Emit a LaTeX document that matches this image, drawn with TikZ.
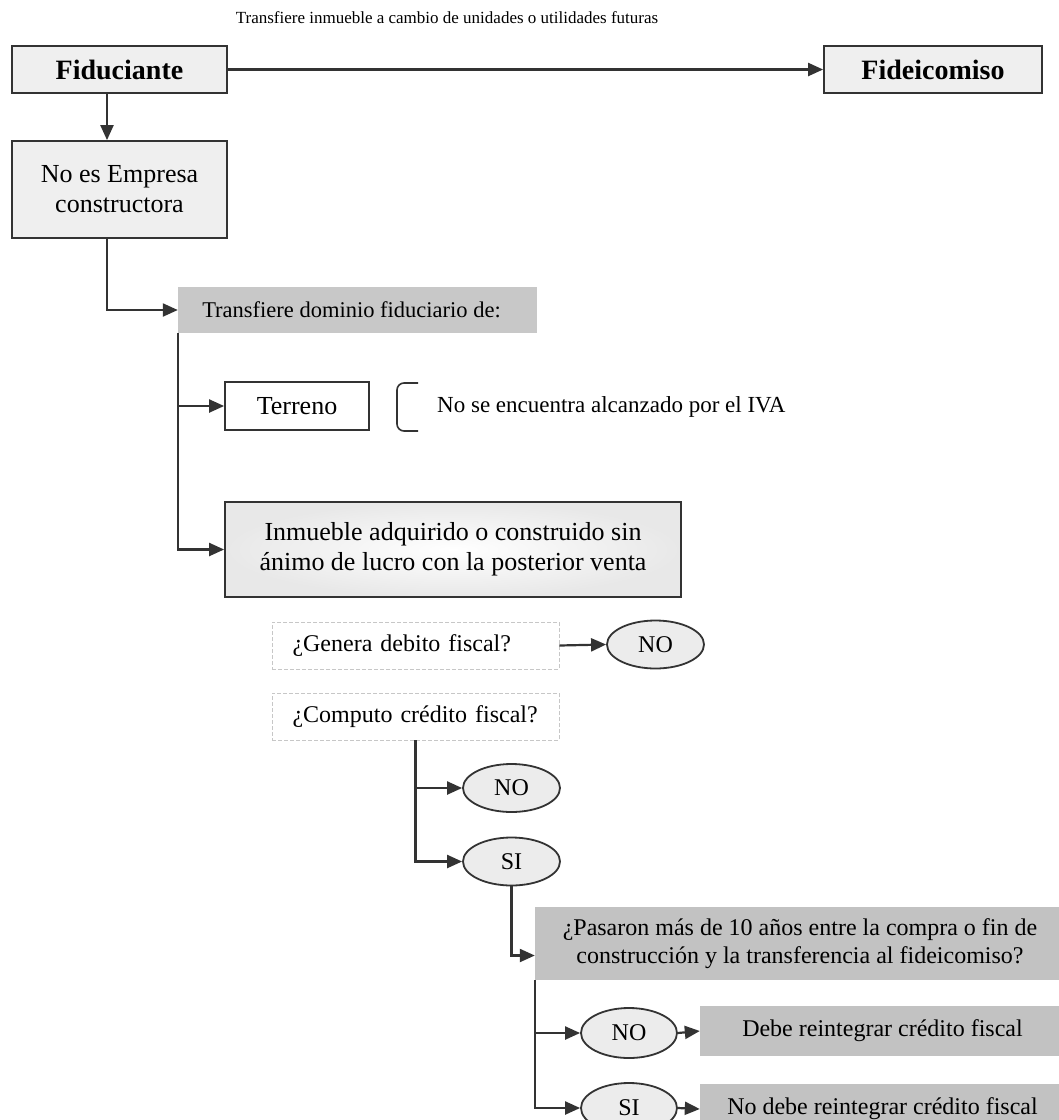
\documentclass[tikz,border=0pt]{standalone}
\usepackage{fontspec}
\setmainfont{Liberation Serif}
\usetikzlibrary{arrows.meta,shapes.geometric}
\definecolor{ln}{HTML}{333333}
\definecolor{boxlight}{HTML}{EFEFEF}
\definecolor{boxmid}{HTML}{C8C8C8}
\definecolor{boxdark}{HTML}{C2C2C2}
\definecolor{ellfill}{HTML}{ECECEC}
\begin{document}
\begin{tikzpicture}[x=1pt,y=-1pt,
  conn/.style={draw=ln,line width=2.2pt},
  arr/.style={conn,-{Triangle[length=15pt,width=13pt]}},
  titlebox/.style={draw=ln,line width=1.8pt,fill=boxlight,minimum width=#1,minimum height=47pt,inner sep=0pt,font=\fontsize{28}{30}\selectfont\bfseries},
  plainbox/.style={draw=ln,line width=1.8pt,inner sep=0pt,align=center,font=\fontsize{26}{30}\selectfont},
  greybox/.style={fill=#1,inner sep=0pt,align=center,font=\fontsize{24}{28}\selectfont},
  askbox/.style={draw=black!22,line width=0.9pt,dash pattern=on 4pt off 2pt,minimum width=287pt,minimum height=47pt,inner xsep=10.5pt,inner ysep=0pt,text width=266pt,align=left,font=\fontsize{24}{28}\selectfont},
  answer/.style={ellipse,draw=ln,line width=1.8pt,fill=ellfill,minimum width=97pt,minimum height=48pt,inner sep=0pt,font=\fontsize{24}{28}\selectfont}]
\useasboundingbox (0,0) rectangle (1059,1120);
\clip (0,0) rectangle (1059,1120);
\fill[white] (0,0) rectangle (1059,1120);

% top label
\node[font=\fontsize{17}{20}\selectfont] (toplabel) at (447,18) {Transfiere inmueble a cambio de unidades o utilidades futuras};

% main boxes
\node[titlebox=215pt] (fidu) at (119.5,69.5) {Fiduciante};
\node[titlebox=218pt] (fide) at (933,69.5) {Fideicomiso};
\draw[arr] (fidu.east) -- (fide.west);

\node[plainbox,fill=boxlight,minimum width=215pt,minimum height=97pt] (empresa) at (119.5,189.5) {No es Empresa\\constructora};
\draw[arr] ([xshift=-12.5pt]fidu.south) -- ([xshift=-12.5pt]empresa.north);

\node[greybox=boxmid,minimum width=359pt,minimum height=46pt,font=\fontsize{22.5}{26}\selectfont] (transf) at (357.5,310) {Transfiere dominio fiduciario de:\hspace*{12pt}};
\draw[arr] ([xshift=-12.5pt]empresa.south) |- (transf.west);

\node[plainbox,minimum width=144pt,minimum height=48pt] (terreno) at (297,406) {Terreno};
\node[plainbox,inner color=white,outer color=black!9,minimum width=456pt,minimum height=95pt] (inm) at (453,549.5) {Inmueble adquirido o construido sin\\ánimo de lucro con la posterior venta};
\draw[arr] (transf.south west) |- (terreno.west);
\draw[arr] (transf.south west) |- (inm.west);

% bracket and note
\draw[draw=ln,line width=1.6pt,rounded corners=7pt] (418,383) -- (397,383) -- (397,431) -- (418,431);
\node[anchor=west,inner sep=0pt,font=\fontsize{23}{26}\selectfont] (iva) at (437,407) {No se encuentra alcanzado por el IVA};

% questions
\node[askbox] (genera) at (415.5,645.5) {\hspace*{10pt}¿Genera debito fiscal?};
\node[answer] (no1) at (655.5,644.5) {NO};
\draw[arr] (genera.east) -- (no1.west);

\node[askbox] (computo) at (415.5,716.5) {\hspace*{10pt}¿Computo crédito fiscal?};
\node[answer] (no2) at (511.5,788) {NO};
\node[answer] (si1) at (511.5,861.5) {SI};
\draw[arr] (computo.south) |- (no2.west);
\draw[arr] (computo.south) |- (si1.west);

\node[greybox=boxdark,minimum width=530pt,minimum height=73pt] (pasaron) at (800,943.5) {¿Pasaron más de 10 años entre la compra o fin de\\construcción y la transferencia al fideicomiso?};
\draw[arr] (si1.south) |- ([yshift=-12pt]pasaron.west);

\node[answer,minimum width=96pt,minimum height=50pt] (no3) at (629,1033) {NO};
\node[answer,minimum width=96pt,minimum height=50pt] (si2) at (629,1108) {SI};
\draw[arr] (pasaron.south west) |- (no3.west);
\draw[arr] (pasaron.south west) |- (si2.west);

\node[greybox=boxdark,minimum width=365pt,minimum height=50pt] (debe) at (882.5,1031) {Debe reintegrar crédito fiscal};
\node[greybox=boxdark,minimum width=365pt,minimum height=50pt] (nodebe) at (882.5,1109) {No debe reintegrar crédito fiscal};
\draw[arr] (no3.east) -- (debe.west);
\draw[arr] (si2.east) -- (nodebe.west);
\end{tikzpicture}
\end{document}
